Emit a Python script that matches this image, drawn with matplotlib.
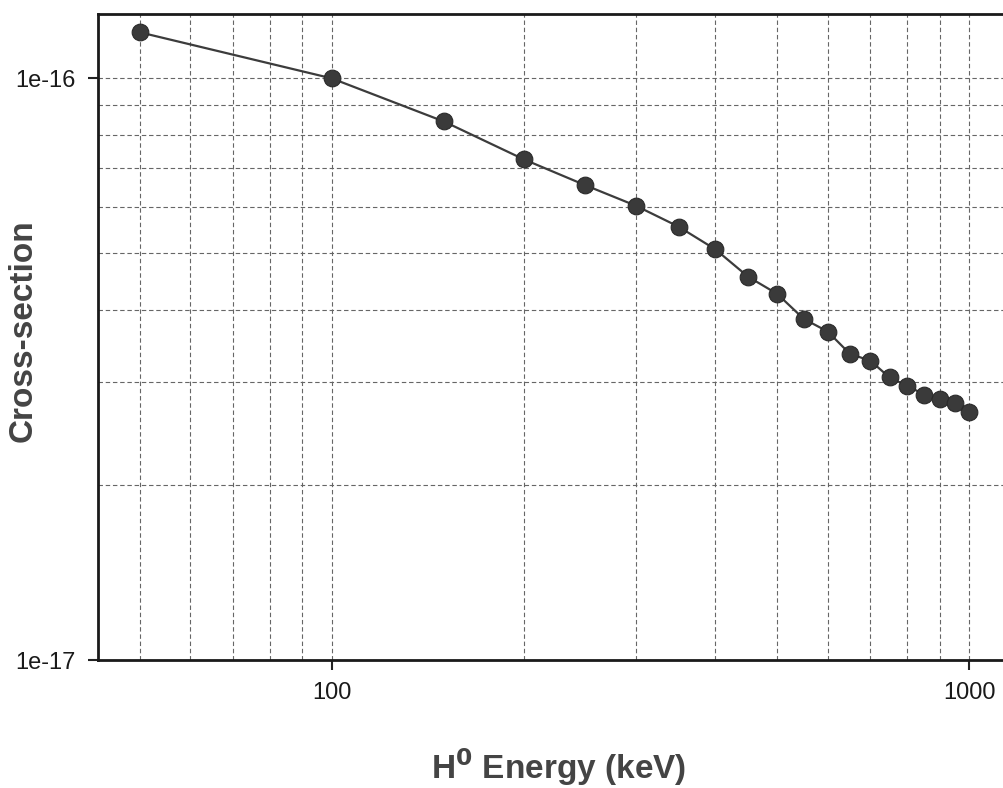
import matplotlib
matplotlib.use("Agg")
import matplotlib.pyplot as plt
from matplotlib.ticker import NullFormatter

# H0 energy (keV) and cross-section values
energy = [50, 100, 150, 200, 250, 300, 350, 400, 450, 500,
          550, 600, 650, 700, 750, 800, 850, 900, 950, 1000]
cross_section = [1.20e-16, 1.00e-16, 8.43e-17, 7.26e-17, 6.55e-17, 6.04e-17,
                 5.56e-17, 5.08e-17, 4.56e-17, 4.26e-17, 3.86e-17, 3.67e-17,
                 3.36e-17, 3.27e-17, 3.06e-17, 2.96e-17, 2.86e-17, 2.81e-17,
                 2.77e-17, 2.67e-17]

x_ticks = [100, 1000]
x_tick_labels = ["100", "1000"]
y_ticks = [1e-17, 1e-16]
y_tick_labels = ["1e-17", "1e-16"]

plt.rcParams["font.family"] = ["Liberation Sans", "DejaVu Sans"]

fig = plt.figure(figsize=(10.04, 7.88), dpi=100)
ax = fig.add_axes([0.0976, 0.1624, 0.918, 0.8198])

ax.plot(energy, cross_section, color="#3c3c3c", lw=1.6,
        marker="o", markersize=12, markerfacecolor="#3a3a3a",
        markeredgecolor="#2a2a2a", markeredgewidth=0.8)

ax.set_xscale("log")
ax.set_yscale("log")
ax.set_xlim(43, 1200)
ax.set_ylim(1e-17, 1.29e-16)

ax.set_xticks(x_ticks, labels=x_tick_labels)
ax.set_yticks(y_ticks, labels=y_tick_labels)
ax.xaxis.set_minor_formatter(NullFormatter())
ax.yaxis.set_minor_formatter(NullFormatter())

ax.tick_params(which="major", direction="out", length=7, width=1.5,
               labelsize=17, pad=9, color="#222222", labelcolor="#1a1a1a")
ax.tick_params(which="minor", length=0)

ax.grid(True, which="both", color="#666666", lw=0.8, ls=(0, (4, 2.5)))

for side in ["left", "bottom", "top"]:
    ax.spines[side].set_linewidth(2)
    ax.spines[side].set_color("#1a1a1a")
ax.spines["right"].set_visible(False)

ax.set_xlabel("H$^{\\mathbf{0}}$ Energy (keV)", fontsize=24, fontweight="bold",
              color="#444444", labelpad=30)
ax.set_ylabel("Cross-section", fontsize=24, fontweight="bold",
              color="#444444")
ax.yaxis.set_label_coords(-0.064, 0.51)

fig.savefig("out.png", dpi=100)
